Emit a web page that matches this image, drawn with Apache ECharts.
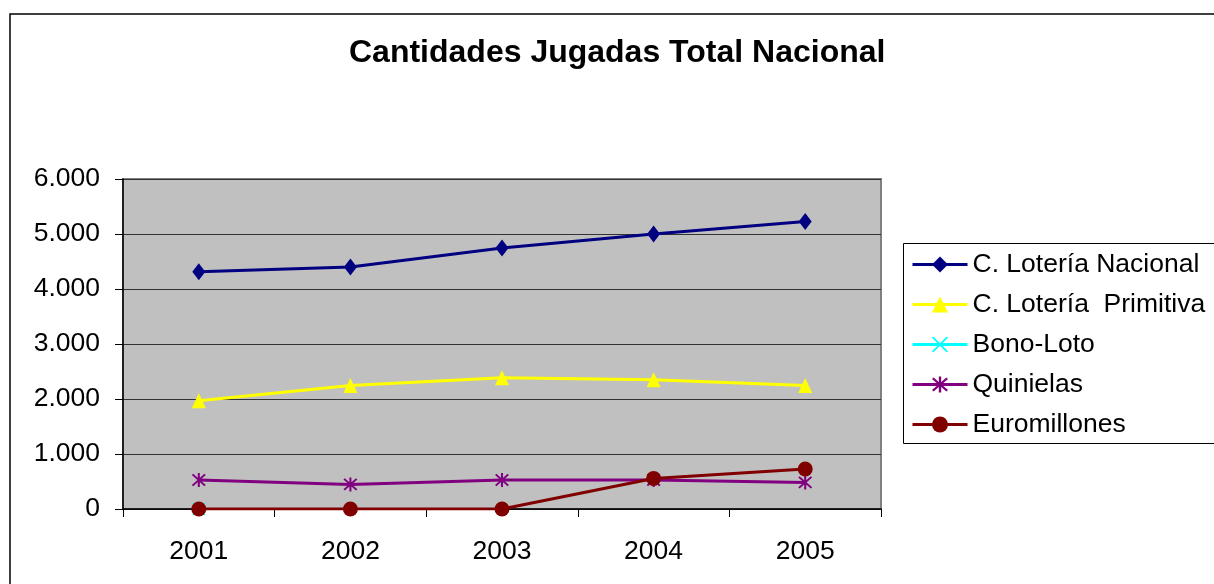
<!DOCTYPE html>
<html>
<head>
<meta charset="utf-8">
<script src="https://cdn.jsdelivr.net/npm/echarts@6/dist/echarts.min.js"></script>
<style>
  html, body { margin: 0; padding: 0; background: #fff; }
  #chart { width: 1214px; height: 584px; }
</style>
</head>
<body>
<div id="chart"></div>
<script>
const years = ['2001', '2002', '2003', '2004', '2005'];
const nacional = [4315, 4400, 4745, 5000, 5229];
const primitiva = [1970, 2245, 2387, 2351, 2245];
const bonoLoto = [0, '-', '-', '-', '-'];
const quinielas = [527, 447, 527, 527, 484];
const euromillones = [0, 0, 0, 556, 727];

const FONT = '"Liberation Sans", Arial, sans-serif';

// excel style markers
const asterisk = 'path://M8.7 0L11.3 0L11.3 20L8.7 20Z M1.2 3.0L3.0 1.2L18.8 17.0L17.0 18.8Z M17.0 1.2L18.8 3.0L3.0 18.8L1.2 17.0Z';
const cross = 'path://M1.4 2.8L2.8 1.4L18.6 17.2L17.2 18.6Z M17.2 1.4L18.6 2.8L2.8 18.6L1.4 17.2Z';

function fmt(v) {
  return String(v).replace(/\B(?=(\d{3})+(?!\d))/g, '.');
}

function mkSeries(name, data, color, symbol, size) {
  return {
    name: name,
    type: 'line',
    data: data,
    symbol: symbol,
    symbolSize: size,
    showAllSymbol: true,
    lineStyle: { color: color, width: 3 },
    itemStyle: { color: color },
    emphasis: { disabled: true },
  };
}

const myChart = echarts.init(document.getElementById('chart'));
myChart.setOption({
  animation: false,
  title: {
    text: 'Cantidades Jugadas Total Nacional',
    left: 349,
    top: 37,
    padding: 0,
    textStyle: { fontFamily: FONT, fontSize: 32, fontWeight: 'bold', color: '#000' },
  },
  graphic: [
    {
      type: 'rect',
      shape: { x: 10, y: 14, width: 1400, height: 800 },
      style: { fill: 'none', stroke: '#000', lineWidth: 1.5 },
      silent: true,
    },
    {
      type: 'rect',
      shape: { x: 903.5, y: 243.5, width: 400, height: 200 },
      style: { fill: '#fff', stroke: '#000', lineWidth: 1 },
      silent: true,
    },
  ],
  grid: {
    left: 123,
    top: 179,
    width: 758,
    height: 330,
    show: true,
    backgroundColor: '#C0C0C0',
    borderColor: '#808080',
    borderWidth: 2,
  },
  legend: {
    orient: 'vertical',
    left: 911,
    top: 251,
    padding: 0,
    itemWidth: 55,
    itemHeight: 20,
    itemGap: 13,
    selectedMode: false,
    lineStyle: { width: 3 },
    textStyle: { fontFamily: FONT, fontSize: 26.5, color: '#000', lineHeight: 27 },
    data: ['C. Lotería Nacional', 'C. Lotería  Primitiva', 'Bono-Loto', 'Quinielas', 'Euromillones'],
  },
  xAxis: {
    type: 'category',
    data: years,
    boundaryGap: true,
    axisLine: { lineStyle: { color: '#000', width: 1.5 } },
    axisTick: { show: true, length: 8, lineStyle: { color: '#000' } },
    axisLabel: { margin: 29, fontFamily: FONT, fontSize: 26.5, color: '#000' },
  },
  yAxis: {
    type: 'value',
    min: 0,
    max: 6000,
    interval: 1000,
    axisLine: { show: true, lineStyle: { color: '#000', width: 1.5 } },
    axisTick: { show: true, length: 8, lineStyle: { color: '#000' } },
    axisLabel: { margin: 23, fontFamily: FONT, fontSize: 26.5, color: '#000', formatter: fmt },
    splitLine: { show: true, lineStyle: { color: '#333', width: 1 } },
  },
  series: [
    mkSeries('C. Lotería Nacional', nacional, '#000080', 'diamond', [13, 17]),
    mkSeries('C. Lotería  Primitiva', primitiva, '#FFFF00', 'triangle', [14, 15]),
    mkSeries('Bono-Loto', bonoLoto, '#00FFFF', cross, 13),
    mkSeries('Quinielas', quinielas, '#800080', asterisk, 14),
    mkSeries('Euromillones', euromillones, '#800000', 'circle', 15),
  ],
});
</script>
</body>
</html>
